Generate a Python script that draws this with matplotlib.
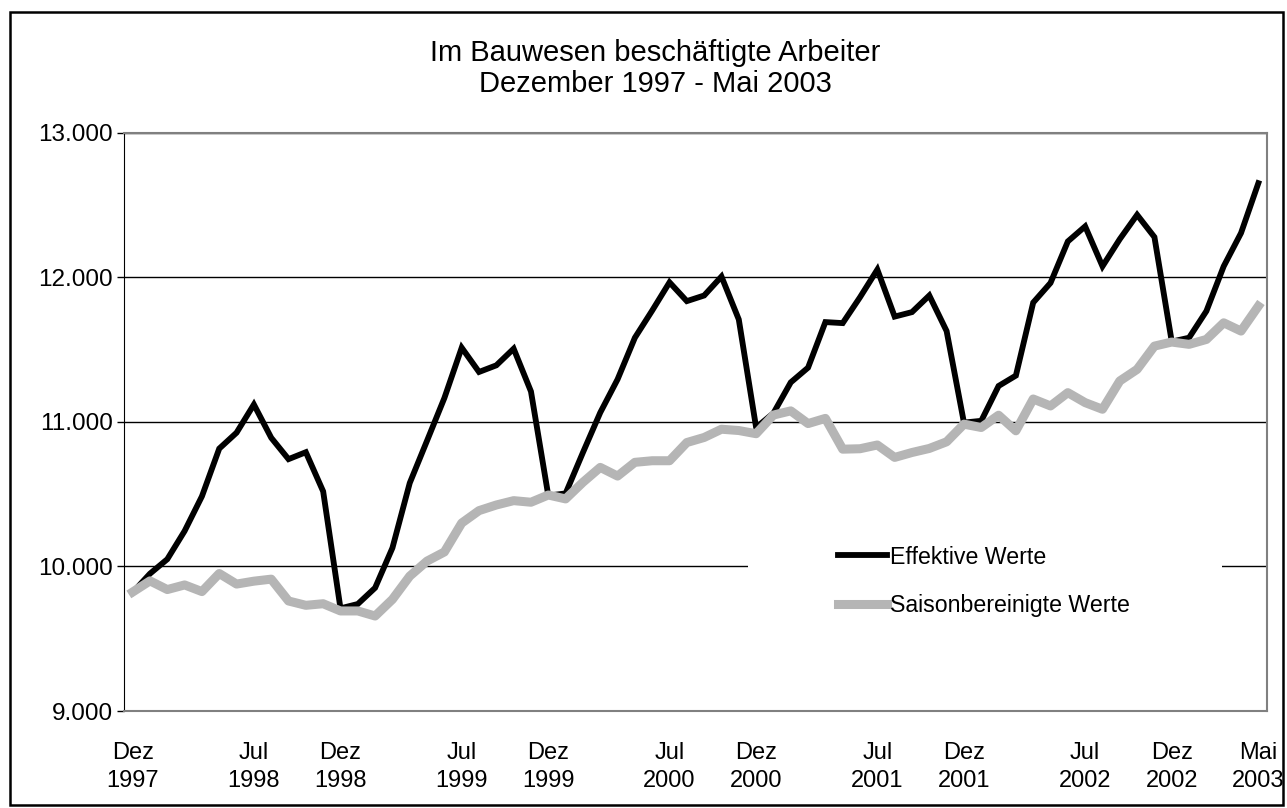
import matplotlib
matplotlib.use("Agg")
import matplotlib.pyplot as plt
from matplotlib.patches import Rectangle
from matplotlib.ticker import FuncFormatter

plt.rcParams['font.family'] = ['Liberation Sans', 'DejaVu Sans']

# monthly values, Dez 1997 .. Mai 2003 (66 months)
effektiv = [9820, 9950, 10050, 10245, 10485, 10815, 10925, 11120, 10890, 10742,
            10790, 10519, 9710, 9740, 9852, 10128, 10577, 10870, 11165, 11513,
            11345, 11391, 11506, 11210, 10490, 10505, 10788, 11064, 11294, 11582,
            11770, 11965, 11835, 11874, 12005, 11708, 10961, 11060, 11273, 11375,
            11690, 11683, 11862, 12053, 11728, 11759, 11874, 11628, 10995, 11007,
            11248, 11320, 11825, 11961, 12248, 12352, 12076, 12264, 12432, 12278,
            11555, 11582, 11766, 12076, 12306, 12651]
saisonbereinigt = [9823, 9900, 9840, 9872, 9826, 9951, 9878, 9898, 9912, 9761,
                   9731, 9742, 9692, 9692, 9657, 9772, 9933, 10037, 10100, 10300,
                   10386, 10425, 10455, 10444, 10494, 10467, 10582, 10685, 10625, 10720,
                   10731, 10731, 10857, 10892, 10949, 10940, 10918, 11047, 11076, 10988,
                   11024, 10811, 10814, 10840, 10754, 10788, 10816, 10862, 10984, 10961,
                   11046, 10938, 11158, 11110, 11202, 11133, 11087, 11283, 11363, 11524,
                   11552, 11536, 11570, 11685, 11628, 11800]

tick_pos = [0, 7, 12, 19, 24, 31, 36, 43, 48, 55, 60, 65]
tick_labels = ['Dez\n1997', 'Jul\n1998', 'Dez\n1998', 'Jul\n1999', 'Dez\n1999',
               'Jul\n2000', 'Dez\n2000', 'Jul\n2001', 'Dez\n2001', 'Jul\n2002',
               'Dez\n2002', 'Mai\n2003']
y_ticks = [9000, 10000, 11000, 12000, 13000]

W, H = 1287, 808
fig = plt.figure(figsize=(W / 100, H / 100), dpi=100)
ax = fig.add_axes([124 / W, 1 - 711 / H, (1267 - 124) / W, (711 - 132.7) / H])

months = list(range(len(effektiv)))
ax.plot(months, effektiv, color='black', lw=4.2, label='Effektive Werte',
        solid_joinstyle='miter', zorder=3)
ax.plot(months, saisonbereinigt, color='#b5b5b5', lw=6.5, label='Saisonbereinigte Werte',
        solid_joinstyle='round', zorder=4)

ax.set_xlim(-0.5, len(effektiv) - 0.5)
ax.set_ylim(9000, 13000)
ax.set_yticks(y_ticks)
ax.yaxis.set_major_formatter(FuncFormatter(lambda v, p: f"{int(v):,}".replace(',', '.')))
ax.set_xticks(tick_pos)
ax.set_xticklabels(tick_labels, linespacing=1.4)
ax.tick_params(axis='x', length=0, pad=22, labelsize=17)
ax.tick_params(axis='y', length=5, width=1, pad=3, labelsize=17.5, direction='out')

ax.set_axisbelow(True)
ax.yaxis.grid(True, color='black', lw=1)

for side in ['top', 'right']:
    ax.spines[side].set_color('#808080')
    ax.spines[side].set_linewidth(1.5)
ax.spines['left'].set_color('black')
ax.spines['bottom'].set_color('#808080')
ax.spines['bottom'].set_linewidth(1.5)

# white legend area hides the gridline
ax.add_patch(Rectangle(((748 - 124) / 1143, (711 - 640) / 578.3), (1222 - 748) / 1143,
                       (640 - 525) / 578.3, transform=ax.transAxes,
                       facecolor='white', edgecolor='none', zorder=2))
leg = ax.legend(loc='upper left', bbox_to_anchor=(0.6247, 0.2860), frameon=False,
                fontsize=16.7, handlelength=2.1, handletextpad=0.15, labelspacing=1.08,
                borderpad=0, borderaxespad=0)

fig.text(655 / W, 1 - 68.5 / H, 'Im Bauwesen beschäftigte Arbeiter\nDezember 1997 - Mai 2003',
         ha='center', va='center', fontsize=21, linespacing=1.12)

fig.add_artist(Rectangle((10 / W, 3 / H), (W - 14) / W, (H - 15) / H, transform=fig.transFigure,
                         facecolor='none', edgecolor='black', lw=1.8))

fig.savefig('out.png', dpi=100, facecolor='white')
